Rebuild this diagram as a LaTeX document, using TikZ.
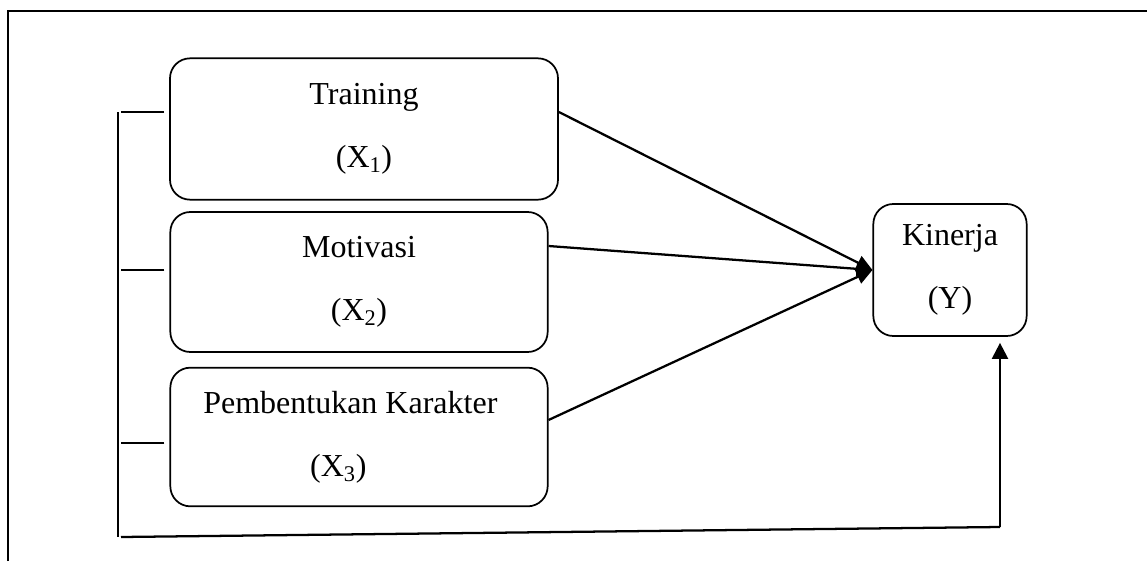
\documentclass[tikz,border=0pt]{standalone}
\usepackage{fontspec}
\setmainfont{Liberation Serif}
\usetikzlibrary{arrows.meta,positioning}
\tikzset{
  varbox/.style={draw, line width=1.3pt, rounded corners=15pt, align=center,
    font=\fontsize{24}{28}\selectfont, inner sep=0pt},
  pathline/.style={line width=1.7pt},
  tick/.style={line width=1.3pt},
}

\begin{document}
\begin{tikzpicture}[x=0.75pt,y=-0.75pt]
      \useasboundingbox (0,0) rectangle (1147,561);

      % Outer frame (only top and left edges show)
      \draw[line width=2.2pt] (8,561) -- (8,11) -- (1147,11);

      % Independent variables
      \node[varbox, minimum width=291pt, minimum height=106pt] (train) at (364,129)
        {Training\\[19pt](X\textsubscript{1})};
      \node[varbox, minimum width=283pt, minimum height=105pt] (motiv) at (359,282)
        {Motivasi\\[19pt](X\textsubscript{2})};
      \node[varbox, minimum width=283pt, minimum height=104pt] (karak) at (359,437)
        {Pembentukan Karakter\hspace*{13pt}\\[19pt](X\textsubscript{3})\hspace*{31pt}};

      % Dependent variable
      \node[varbox, minimum width=115pt, minimum height=99pt] (kin) at (950,270)
        {Kinerja\\[19pt](Y)};

      % Arrows to Kinerja
      \draw[pathline, -{Triangle[length=12pt,width=11pt]}] ([yshift=12.75pt]train.east) -- (kin.west);
      \draw[pathline, -{Triangle[length=12pt,width=11pt]}] ([yshift=27pt]motiv.east) -- (kin.west);
      \draw[pathline, -{Triangle[length=12pt,width=11pt]}] ([yshift=12.75pt]karak.east) -- (kin.west);

      % Bracket joining the three variables
      \coordinate (btop) at (118,112);
      \coordinate (bbot) at (118,537);
      \draw[tick] (btop) -- (bbot);
      \draw[tick] ([xshift=-3.75pt,yshift=12.75pt]train.west) -- ++(-43,0);
      \draw[tick] ([xshift=-3.75pt,yshift=9pt]motiv.west) -- ++(-43,0);
      \draw[tick] ([xshift=-3.75pt,yshift=-4.5pt]karak.west) -- ++(-43,0);

      % Simultaneous effect along the bottom
      \coordinate (bend) at (1000,527);
      \draw[pathline] (121,537) -- (bend);
      \draw[pathline, -{Triangle[length=12pt,width=12pt]}] (bend) -- ([xshift=37.5pt,yshift=-4.5pt]kin.south);
    \end{tikzpicture}
\end{document}
